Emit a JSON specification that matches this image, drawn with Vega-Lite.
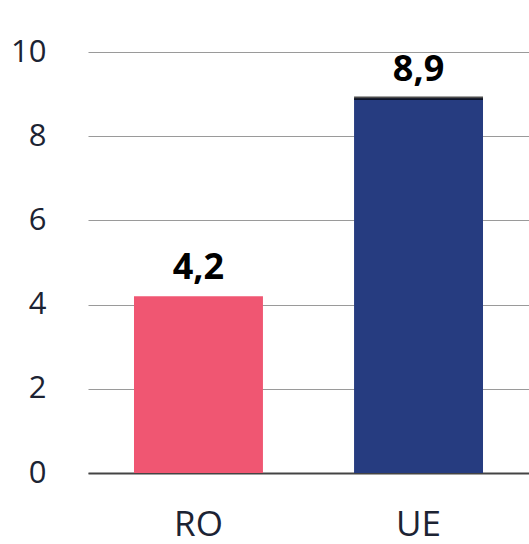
{
  "$schema": "https://vega.github.io/schema/vega-lite/v6.json",
  "width": 441,
  "height": 421,
  "autosize": {"type": "none"},
  "padding": {"left": 88, "top": 52, "right": 0, "bottom": 71},
  "background": "white",
  "config": {"view": {"stroke": null}},
  "data": {"values": [
    {"tara": "RO", "valoare": 4.2, "eticheta": "4,2"},
    {"tara": "UE", "valoare": 8.9, "eticheta": "8,9"}
  ]},
  "encoding": {
    "x": {"field": "tara", "type": "nominal", "sort": null,
      "scale": {"paddingInner": 0.414, "paddingOuter": 0.209},
      "axis": {"title": null, "labelAngle": 0, "ticks": false, "domain": true, "domainColor": "#444444", "domainWidth": 2,
        "labelFont": "Open Sans", "labelFontSize": 35, "labelColor": "#1c2333", "labelPadding": 34}},
    "y": {"field": "valoare", "type": "quantitative",
      "scale": {"domain": [0, 10]},
      "axis": {"title": null, "values": [0, 2, 4, 6, 8, 10], "ticks": false, "domain": false,
        "grid": true, "gridColor": "#9a9a9a", "gridWidth": 1.2,
        "labelFont": "Open Sans", "labelFontSize": 31, "labelColor": "#1c2333", "labelPadding": 42}}
  },
  "layer": [
    {"mark": {"type": "bar"},
      "encoding": {"color": {"field": "tara", "type": "nominal", "legend": null,
        "scale": {"domain": ["RO", "UE"], "range": ["#f05672", "#263c80"]}}}},
    {"transform": [{"filter": "datum.tara == 'UE'"}],
      "mark": {"type": "tick", "color": "#000000", "thickness": 3.5, "bandSize": 129, "orient": "horizontal"},
      "encoding": {}},
    {"mark": {"type": "text", "dy": -17, "baseline": "alphabetic", "font": "Noto Sans", "fontWeight": "bold", "fontSize": 36, "color": "#000000"},
      "encoding": {"text": {"field": "eticheta"}}}
  ]
}
